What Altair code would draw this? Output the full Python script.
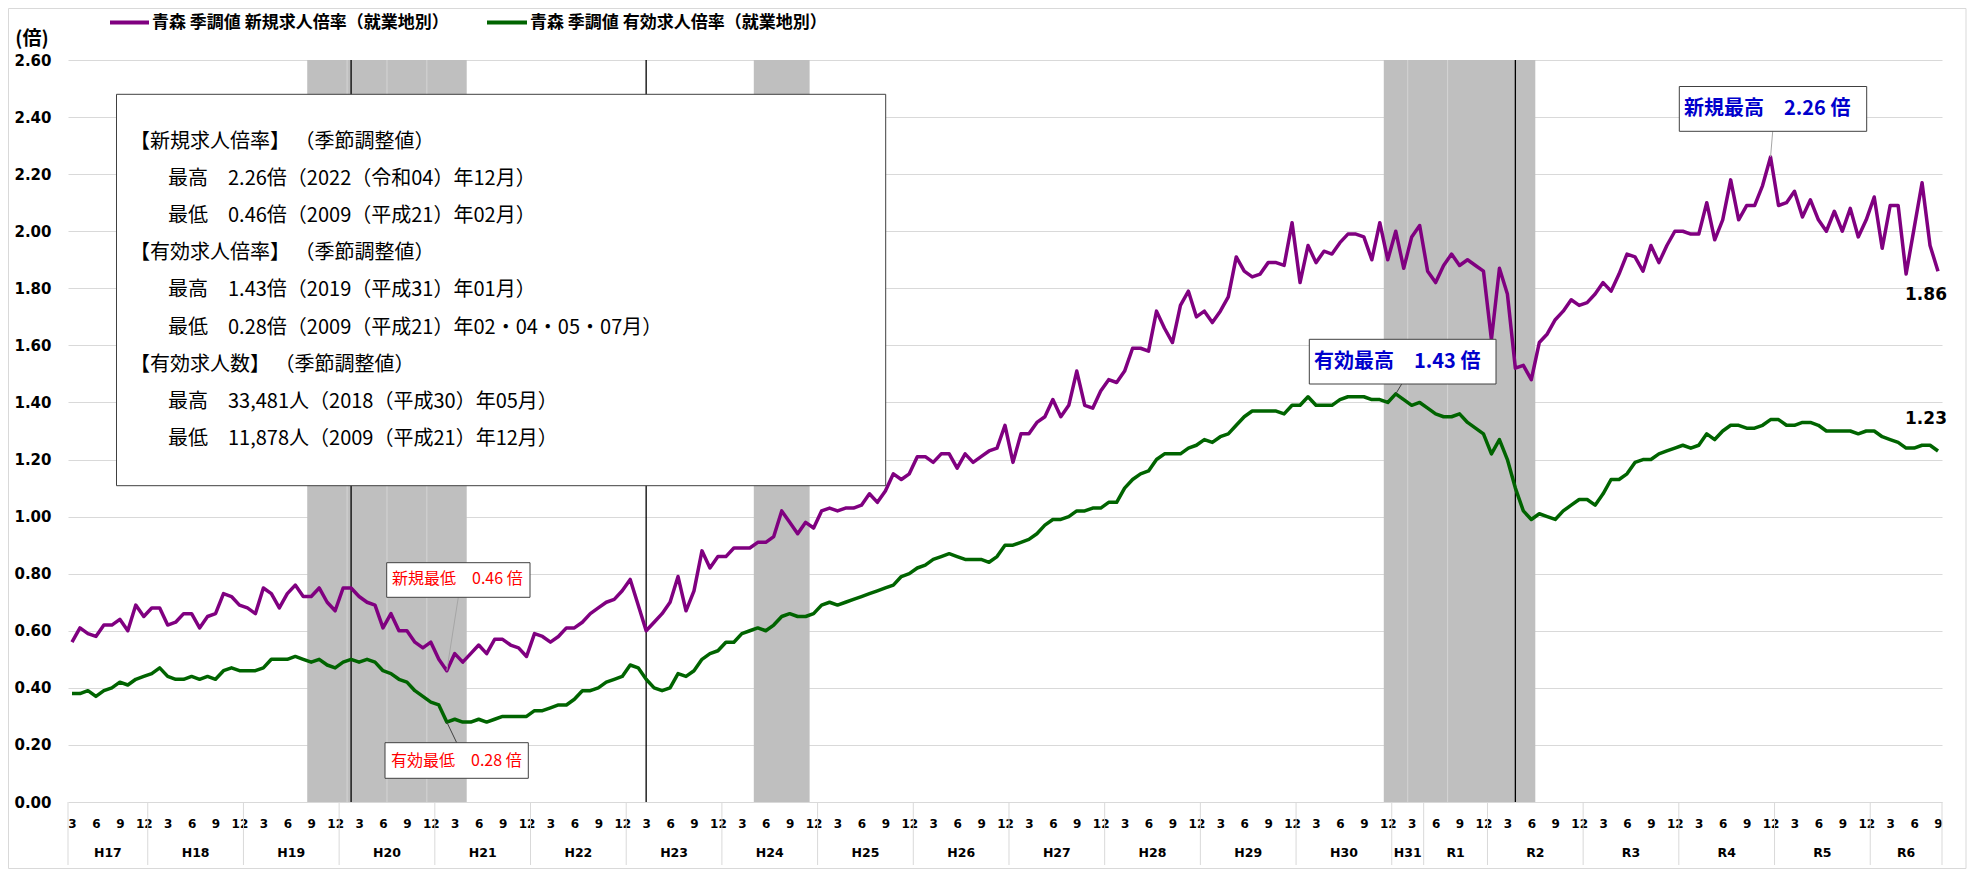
import altair as alt
import pandas as pd

# ---------------- data ----------------
START_YEAR, START_MONTH = 2005, 3

shinki = [
    0.56, 0.61, 0.59, 0.58, 0.62, 0.62, 0.64, 0.60, 0.69, 0.65,
    0.68, 0.68, 0.62, 0.63, 0.66, 0.66, 0.61, 0.65, 0.66, 0.73,
    0.72, 0.69, 0.68, 0.66, 0.75, 0.73, 0.68, 0.73, 0.76, 0.72,
    0.72, 0.75, 0.70, 0.67, 0.75, 0.75, 0.72, 0.70, 0.69, 0.61,
    0.66, 0.60, 0.60, 0.56, 0.54, 0.56, 0.50, 0.46, 0.52, 0.49,
    0.52, 0.55, 0.52, 0.57, 0.57, 0.55, 0.54, 0.51, 0.59, 0.58,
    0.56, 0.58, 0.61, 0.61, 0.63, 0.66, 0.68, 0.70, 0.71, 0.74,
    0.78, 0.69, 0.60, 0.63, 0.66, 0.70, 0.79, 0.67, 0.74, 0.88,
    0.82, 0.86, 0.86, 0.89, 0.89, 0.89, 0.91, 0.91, 0.93, 1.02,
    0.98, 0.94, 0.98, 0.96, 1.02, 1.03, 1.02, 1.03, 1.03, 1.04,
    1.08, 1.05, 1.09, 1.15, 1.13, 1.15, 1.21, 1.21, 1.19, 1.22,
    1.22, 1.17, 1.22, 1.19, 1.21, 1.23, 1.24, 1.32, 1.19, 1.29,
    1.29, 1.33, 1.35, 1.41, 1.35, 1.39, 1.51, 1.39, 1.38, 1.44,
    1.48, 1.47, 1.51, 1.59, 1.59, 1.58, 1.72, 1.66, 1.61, 1.74,
    1.79, 1.70, 1.72, 1.68, 1.72, 1.77, 1.91, 1.86, 1.84, 1.85,
    1.89, 1.89, 1.88, 2.03, 1.82, 1.95, 1.89, 1.93, 1.92, 1.96,
    1.99, 1.99, 1.98, 1.90, 2.03, 1.90, 2.00, 1.87, 1.98, 2.02,
    1.86, 1.82, 1.88, 1.92, 1.88, 1.90, 1.88, 1.86, 1.62, 1.87,
    1.78, 1.52, 1.53, 1.48, 1.61, 1.64, 1.69, 1.72, 1.76, 1.74,
    1.75, 1.78, 1.82, 1.79, 1.85, 1.92, 1.91, 1.86, 1.95, 1.89,
    1.95, 2.00, 2.00, 1.99, 1.99, 2.10, 1.97, 2.04, 2.18, 2.04,
    2.09, 2.09, 2.16, 2.26, 2.09, 2.10, 2.14, 2.05, 2.11, 2.04,
    2.00, 2.07, 2.00, 2.08, 1.98, 2.04, 2.12, 1.94, 2.09, 2.09,
    1.85, 2.01, 2.17, 1.95, 1.86,
]

yuko = [
    0.38, 0.38, 0.39, 0.37, 0.39, 0.40, 0.42, 0.41, 0.43, 0.44,
    0.45, 0.47, 0.44, 0.43, 0.43, 0.44, 0.43, 0.44, 0.43, 0.46,
    0.47, 0.46, 0.46, 0.46, 0.47, 0.50, 0.50, 0.50, 0.51, 0.50,
    0.49, 0.50, 0.48, 0.47, 0.49, 0.50, 0.49, 0.50, 0.49, 0.46,
    0.45, 0.43, 0.42, 0.39, 0.37, 0.35, 0.34, 0.28, 0.29, 0.28,
    0.28, 0.29, 0.28, 0.29, 0.30, 0.30, 0.30, 0.30, 0.32, 0.32,
    0.33, 0.34, 0.34, 0.36, 0.39, 0.39, 0.40, 0.42, 0.43, 0.44,
    0.48, 0.47, 0.43, 0.40, 0.39, 0.40, 0.45, 0.44, 0.46, 0.50,
    0.52, 0.53, 0.56, 0.56, 0.59, 0.60, 0.61, 0.60, 0.62, 0.65,
    0.66, 0.65, 0.65, 0.66, 0.69, 0.70, 0.69, 0.70, 0.71, 0.72,
    0.73, 0.74, 0.75, 0.76, 0.79, 0.80, 0.82, 0.83, 0.85, 0.86,
    0.87, 0.86, 0.85, 0.85, 0.85, 0.84, 0.86, 0.90, 0.90, 0.91,
    0.92, 0.94, 0.97, 0.99, 0.99, 1.00, 1.02, 1.02, 1.03, 1.03,
    1.05, 1.05, 1.10, 1.13, 1.15, 1.16, 1.20, 1.22, 1.22, 1.22,
    1.24, 1.25, 1.27, 1.26, 1.28, 1.29, 1.32, 1.35, 1.37, 1.37,
    1.37, 1.37, 1.36, 1.39, 1.39, 1.42, 1.39, 1.39, 1.39, 1.41,
    1.42, 1.42, 1.42, 1.41, 1.41, 1.40, 1.43, 1.41, 1.39, 1.40,
    1.38, 1.36, 1.35, 1.35, 1.36, 1.33, 1.31, 1.29, 1.22, 1.27,
    1.20, 1.10, 1.02, 0.99, 1.01, 1.00, 0.99, 1.02, 1.04, 1.06,
    1.06, 1.04, 1.08, 1.13, 1.13, 1.15, 1.19, 1.20, 1.20, 1.22,
    1.23, 1.24, 1.25, 1.24, 1.25, 1.29, 1.27, 1.30, 1.32, 1.32,
    1.31, 1.31, 1.32, 1.34, 1.34, 1.32, 1.32, 1.33, 1.33, 1.32,
    1.30, 1.30, 1.30, 1.30, 1.29, 1.30, 1.30, 1.28, 1.27, 1.26,
    1.24, 1.24, 1.25, 1.25, 1.23,
]

series_names = ["青森 季調値 新規求人倍率（就業地別）", "青森 季調値 有効求人倍率（就業地別）"]
series_colors = ["#800080", "#006400"]

# shaded periods and event lines (month index from 2005-03)
recess_first = [30, 86, 165]
recess_last = [49, 92, 183]
recess_split = [34.5, 39.5, 44.5, 167.5, 172.5]
event_idx = [35, 72, 181]

era_labels = ["H17", "H18", "H19", "H20", "H21", "H22", "H23", "H24", "H25", "H26",
              "H27", "H28", "H29", "H30", "H31", "R1", "R2", "R3", "R4", "R5", "R6"]
y_ticks = [0.0, 0.2, 0.4, 0.6, 0.8, 1.0, 1.2, 1.4, 1.6, 1.8, 2.0, 2.2, 2.4, 2.6]

info_lines = [
    ("h", "【新規求人倍率】 （季節調整値）"),
    ("i", "最高　2.26倍（2022（令和04）年12月）"),
    ("i", "最低　0.46倍（2009（平成21）年02月）"),
    ("h", "【有効求人倍率】 （季節調整値）"),
    ("i", "最高　1.43倍（2019（平成31）年01月）"),
    ("i", "最低　0.28倍（2009（平成21）年02・04・05・07月）"),
    ("h", "【有効求人数】 （季節調整値）"),
    ("i", "最高　33,481人（2018（平成30）年05月）"),
    ("i", "最低　11,878人（2009（平成21）年12月）"),
]

# ---------------- derived tables ----------------
N = len(shinki)
idx = list(range(N))
months = [((i + START_MONTH - 1) % 12) + 1 for i in idx]
years = [START_YEAR + (i + START_MONTH - 1) // 12 for i in idx]


def era_of(y, m):
    if y < 2019 or (y == 2019 and m <= 4):
        return "H%d" % (y - 1988)
    return "R%d" % (y - 2018)


eras = [era_of(y, m) for y, m in zip(years, months)]
era_rows = []
for lab in era_labels:
    members = [i for i in idx if eras[i] == lab]
    era_rows.append({"label": lab, "c": (members[0] + members[-1]) / 2,
                     "a": members[0] - 0.5, "b": members[-1] + 0.5})
era_df = pd.DataFrame(era_rows)
bounds = sorted(set(list(era_df["a"]) + list(era_df["b"])))
bound_df = pd.DataFrame({"x": bounds})

tick_idx = [i for i in idx if months[i] % 3 == 0]

line_df = pd.DataFrame({
    "i": idx * 2,
    "v": shinki + yuko,
    "s": [series_names[0]] * N + [series_names[1]] * N,
})
val_df = pd.DataFrame({"i": idx, "shinki": shinki, "yuko": yuko})

# ---------------- layout ----------------
W, H = 1874, 742
JP = "Noto Sans CJK JP"
NUM = "DejaVu Sans"
ONE = pd.DataFrame({"k": [0]})

XS = alt.Scale(domain=[-0.5, N - 0.5], nice=False, zero=False)
YS = alt.Scale(domain=[0, 2.6], nice=False, zero=False)

XA = alt.Axis(values=tick_idx, labelExpr="(datum.value + 2) % 12 + 1", title=None,
              domain=False, ticks=False, grid=False, labelFont=NUM, labelFontWeight="bold",
              labelFontSize=12, labelColor="#000000", labelPadding=21, labelBaseline="middle",
              labelOverlap=False, labelFlush=False, labelBound=False)
YA = alt.Axis(values=y_ticks, format=".2f", title=None, domain=False, ticks=False,
              grid=True, gridColor="#D9D9D9", gridWidth=1.2, labelFont=NUM,
              labelFontWeight="bold", labelFontSize=15, labelColor="#000000", labelPadding=17)


def X(field):
    return alt.X(field, scale=XS, axis=XA)


def Y(field):
    return alt.Y(field, scale=YS, axis=YA)


def txt(s, x, y, size, color="#000000", weight="normal", align="left", font=JP):
    return alt.Chart(ONE).mark_text(text=s, align=align, baseline="middle", font=font,
                                    fontSize=size, fontWeight=weight, color=color).encode(
        x=alt.value(x), y=alt.value(y))


def box(x1, y1, x2, y2, stroke="#404040"):
    return alt.Chart(ONE).mark_rect(fill="white", stroke=stroke, strokeWidth=1).encode(
        x=alt.value(x1), x2=alt.value(x2), y=alt.value(y1), y2=alt.value(y2))


def connector(i, col, x2, y2, color):
    return alt.Chart(val_df[val_df.i == i]).mark_rule(color=color, strokeWidth=1).encode(
        x=X("i:Q"), y=Y(col + ":Q"), x2=alt.value(x2), y2=alt.value(y2))


rec_df = pd.DataFrame({"a": [v - 0.5 for v in recess_first], "b": [v + 0.5 for v in recess_last]})
rects = alt.Chart(rec_df).mark_rect(color="#BFBFBF").encode(
    x=X("a:Q"), x2="b:Q", y=alt.value(0), y2=alt.value(H))
splits = alt.Chart(pd.DataFrame({"x": recess_split})).mark_rule(color="#D4D4D4", strokeWidth=1).encode(
    x=X("x:Q"), y=alt.value(0), y2=alt.value(H))
events = alt.Chart(pd.DataFrame({"x": event_idx})).mark_rule(color="#000000", strokeWidth=1.3).encode(
    x=X("x:Q"), y=alt.value(0), y2=alt.value(H))

lines = alt.Chart(line_df).mark_line(strokeWidth=3.5, strokeJoin="round").encode(
    x=X("i:Q"),
    y=Y("v:Q"),
    color=alt.Color("s:N", scale=alt.Scale(domain=series_names, range=series_colors), legend=None),
)

# info box
layers = [rects, splits, events, lines, box(48.5, 34.3, 817.7, 425.7, "#404040")]
for k, (kind, s) in enumerate(info_lines):
    layers.append(txt(s, 62 if kind == "h" else 100, 81.5 + 37.2 * k, 20))

# annotation callouts
layers += [
    connector(47, "shinki", 390.3, 537.3, "#A6A6A6"),
    connector(47, "yuko", 388.7, 682.7, "#404040"),
    connector(166, "yuko", 1333.7, 324, "#404040"),
    connector(213, "shinki", 1704.7, 71.3, "#A6A6A6"),
    box(318.7, 502.7, 462, 537.3, "#404040"),
    txt("新規最低　0.46 倍", 324, 519.3, 16, color="#FF0000"),
    box(317, 682.7, 460.3, 718.3, "#404040"),
    txt("有効最低　0.28 倍", 323, 701, 16, color="#FF0000"),
    box(1241.3, 279.3, 1428, 324, "#404040"),
    txt("有効最高　1.43 倍", 1246, 301.5, 20, color="#0000CC", weight="bold"),
    box(1611.3, 26.5, 1798.7, 71.3, "#404040"),
    txt("新規最高　2.26 倍", 1616, 49, 20, color="#0000CC", weight="bold"),
]

# end-point value labels
last = val_df[val_df.i == N - 1]
layers += [
    alt.Chart(last).mark_text(align="left", baseline="middle", font=NUM, fontSize=17,
                              fontWeight="bold", color="#000000", dx=-33, dy=24).encode(
        x=X("i:Q"), y=Y("shinki:Q"), text=alt.Text("shinki:Q", format=".2f")),
    alt.Chart(last).mark_text(align="left", baseline="middle", font=NUM, fontSize=17,
                              fontWeight="bold", color="#000000", dx=-33, dy=-32).encode(
        x=X("i:Q"), y=Y("yuko:Q"), text=alt.Text("yuko:Q", format=".2f")),
]

# category axis decorations: year dividers and era labels
layers += [
    alt.Chart(bound_df).mark_rule(color="#D9D9D9", strokeWidth=1).encode(
        x=X("x:Q"), y=alt.value(H), y2=alt.value(H + 63)),
    alt.Chart(era_df).mark_text(align="center", baseline="middle", font=NUM, fontSize=12.5,
                                fontWeight="bold", color="#000000").encode(
        x=X("c:Q"), y=alt.value(793), text="label:N"),
]

# legend, unit label and chart frame
LEG_Y = -37.5
layers += [
    alt.Chart(ONE).mark_rule(color=series_colors[0], strokeWidth=4).encode(
        x=alt.value(42), x2=alt.value(81), y=alt.value(LEG_Y)),
    txt(series_names[0], 84, LEG_Y, 17, weight="bold"),
    alt.Chart(ONE).mark_rule(color=series_colors[1], strokeWidth=4).encode(
        x=alt.value(419), x2=alt.value(459), y=alt.value(LEG_Y)),
    txt(series_names[1], 462, LEG_Y, 17, weight="bold"),
    txt("(倍)", -36, -21, 19, weight="bold", align="center"),
    alt.Chart(ONE).mark_rect(fill="white", fillOpacity=0, stroke="#D9D9D9", strokeWidth=1).encode(
        x=alt.value(-59.5), x2=alt.value(1898), y=alt.value(-51.5), y2=alt.value(808.5)),
]

chart = alt.layer(*layers).properties(
    width=W, height=H,
    padding={"left": 60, "top": 52, "right": 32, "bottom": 75},
    autosize=alt.AutoSizeParams(type="none"),
    background="white",
).configure_view(strokeWidth=0)

chart.save("out.html", embed_options={"renderer": "svg", "actions": False})
